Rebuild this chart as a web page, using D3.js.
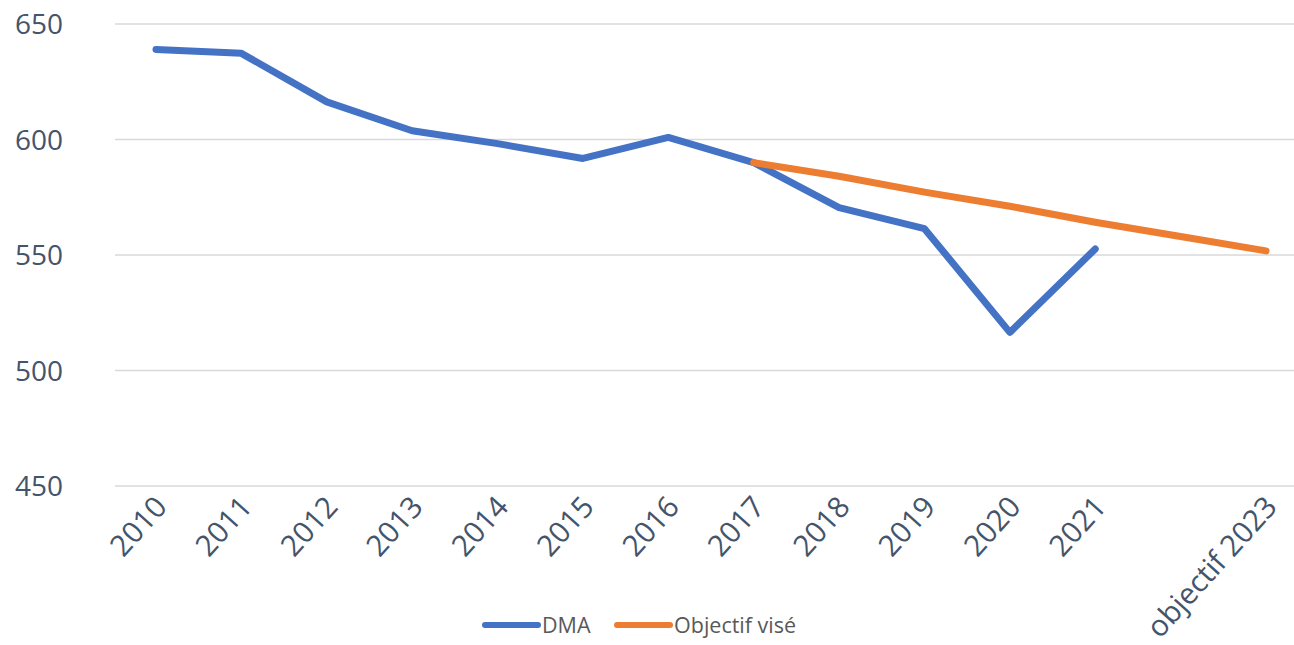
<!DOCTYPE html>
<html>
<head>
<meta charset="utf-8">
<script src="https://cdn.jsdelivr.net/npm/d3@7"></script>
<style>
  html, body { margin: 0; padding: 0; background: #fff; }
  svg { display: block; }
</style>
</head>
<body>
<svg id="chart" width="1294" height="645"></svg>
<script>
const categories = ["2010","2011","2012","2013","2014","2015","2016","2017","2018","2019","2020","2021","2022","objectif 2023"];
const categoryLabels = ["2010","2011","2012","2013","2014","2015","2016","2017","2018","2019","2020","2021","","objectif 2023"];
const dmaValues = [639, 637.3, 616.3, 603.8, 598.2, 591.8, 600.9, 590, 570.5, 561.4, 516.5, 552.6, null, null];
const objectifValues = [null, null, null, null, null, null, null, 590, 584.1, 577.2, 571.1, 564.2, 558, 551.8];
const yTicks = [450, 500, 550, 600, 650];
const seriesNames = ["DMA", "Objectif visé"];
const seriesColors = ["#4472c4", "#ed7d31"];

const svg = d3.select("#chart");
const font = "'Open Sans', 'DejaVu Sans', sans-serif";

const x = d3.scalePoint().domain(categories).range([156, 1266]);
const y = d3.scaleLinear().domain([450, 650]).range([486, 24]);

// gridlines
svg.append("g")
  .selectAll("line")
  .data(yTicks)
  .join("line")
  .attr("x1", 115).attr("x2", 1294)
  .attr("y1", d => y(d)).attr("y2", d => y(d))
  .attr("stroke", "#d9d9d9").attr("stroke-width", 1.5);

// y axis labels
const yAxis = d3.axisLeft(y).tickValues(yTicks).tickSize(0).tickPadding(0);
const yg = svg.append("g").attr("transform", "translate(63,0)").call(yAxis);
yg.select(".domain").remove();
yg.selectAll("text")
  .attr("font-family", font).attr("font-size", 28).attr("fill", "#44546a")
  .attr("dy", "0.35em");

// x axis labels
const xAxis = d3.axisBottom(x).tickSize(0).tickFormat((d, i) => categoryLabels[i]);
const xg = svg.append("g").attr("transform", "translate(0,486)").call(xAxis);
xg.select(".domain").remove();
xg.selectAll("text")
  .attr("font-family", font).attr("font-size", 29.5).attr("fill", "#44546a")
  .attr("text-anchor", "end")
  .attr("dy", null)
  .attr("y", 0)
  .attr("transform", "translate(12,22) rotate(-48)");

// lines
const line = d3.line()
  .defined(d => d.v !== null)
  .x(d => x(d.c)).y(d => y(d.v));

[dmaValues, objectifValues].forEach((vals, si) => {
  const data = categories.map((c, i) => ({ c, v: vals[i] }));
  svg.append("path")
    .datum(data)
    .attr("d", line)
    .attr("fill", "none")
    .attr("stroke", seriesColors[si])
    .attr("stroke-width", 7)
    .attr("stroke-linecap", "round")
    .attr("stroke-linejoin", "round");
});

// legend
const legendItems = [{ x: 485, name: seriesNames[0], color: seriesColors[0] },
                     { x: 617, name: seriesNames[1], color: seriesColors[1] }];
const lg = svg.append("g");
legendItems.forEach(it => {
  lg.append("line")
    .attr("x1", it.x).attr("x2", it.x + 53)
    .attr("y1", 625).attr("y2", 625)
    .attr("stroke", it.color).attr("stroke-width", 6).attr("stroke-linecap", "round");
  lg.append("text")
    .attr("x", it.x + 57).attr("y", 625).attr("dy", "0.35em")
    .attr("font-family", font).attr("font-size", 21.5).attr("fill", "#595959")
    .text(it.name);
});
</script>
</body>
</html>
